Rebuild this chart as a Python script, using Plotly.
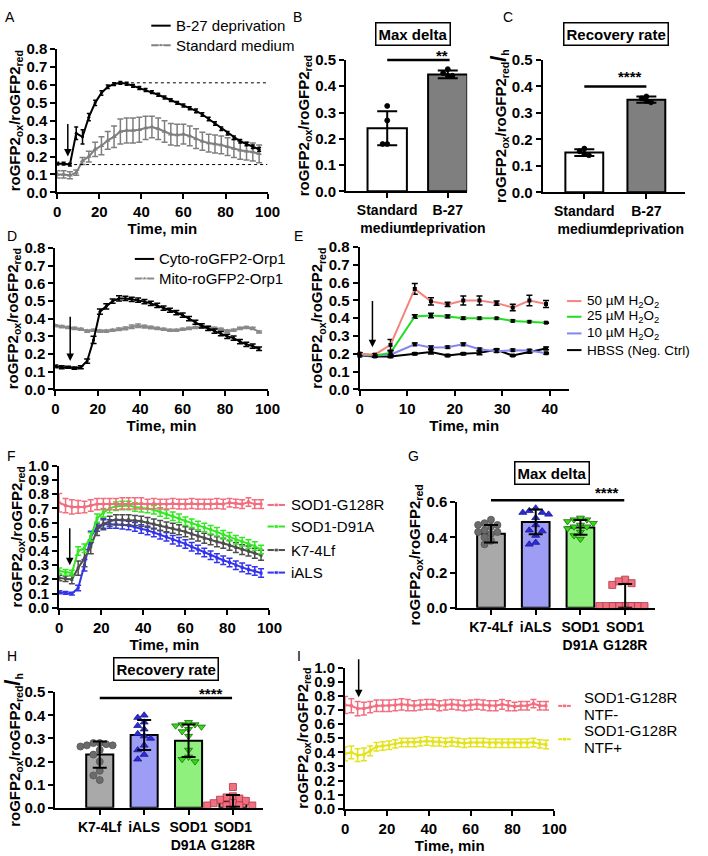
import plotly.graph_objects as go

W, H = 708, 856
FONT = "Arial, 'Liberation Sans', Helvetica, sans-serif"

# ---------------- data ----------------
T = [0, 3, 6, 9, 12, 15, 18, 21, 24, 27, 30,
     33, 36, 39, 42, 45, 48, 51, 54, 57, 60, 63,
     66, 69, 72, 75, 78, 81, 84, 87, 90, 93, 96]

# A
A_b27 = [0.16, 0.16, 0.155, 0.33, 0.31, 0.42, 0.50, 0.555, 0.59, 0.605, 0.612,
         0.607, 0.595, 0.583, 0.572, 0.56, 0.545, 0.53, 0.515, 0.50, 0.485, 0.47,
         0.455, 0.435, 0.41, 0.385, 0.355, 0.33, 0.305, 0.285, 0.27, 0.255, 0.24]
A_b27_err = [0.008, 0.008, 0.008, 0.035, 0.04, 0.02, 0.015, 0.012, 0.01, 0.008, 0.008,
             0.008, 0.008, 0.008, 0.008, 0.008, 0.008, 0.008, 0.008, 0.008, 0.008, 0.008,
             0.01, 0.01, 0.01, 0.01, 0.01, 0.01, 0.01, 0.01, 0.01, 0.01, 0.01]
A_std = [0.10, 0.10, 0.095, 0.11, 0.175, 0.20, 0.24, 0.26, 0.29, 0.31, 0.34,
         0.345, 0.345, 0.35, 0.36, 0.365, 0.355, 0.34, 0.325, 0.32, 0.325, 0.315,
         0.30, 0.285, 0.275, 0.27, 0.265, 0.255, 0.245, 0.235, 0.23, 0.225, 0.215]
A_std_err = [0.02, 0.02, 0.02, 0.015, 0.02, 0.03, 0.04, 0.05, 0.05, 0.06, 0.07,
             0.07, 0.07, 0.07, 0.065, 0.06, 0.06, 0.06, 0.06, 0.06, 0.055, 0.055,
             0.055, 0.05, 0.05, 0.05, 0.05, 0.05, 0.05, 0.05, 0.05, 0.05, 0.05]
A_max, A_base = 0.612, 0.155

# B / C
BC_groups = ["Standard<br>medium", "B-27<br>deprivation"]
B_mean = [0.24, 0.445]
B_sd = [0.065, 0.015]
B_pts = [[0.325, 0.27, 0.18, 0.18], [0.465, 0.45, 0.44, 0.44]]
C_mean = [0.15, 0.35]
C_sd = [0.013, 0.012]
C_pts = [[0.165, 0.155, 0.145, 0.14], [0.362, 0.355, 0.345, 0.34]]

# D
D_cyto = [0.13, 0.125, 0.125, 0.12, 0.125, 0.16, 0.28, 0.44, 0.47, 0.50, 0.515,
          0.515, 0.51, 0.505, 0.497, 0.487, 0.475, 0.46, 0.448, 0.435, 0.42, 0.40,
          0.38, 0.36, 0.345, 0.33, 0.315, 0.30, 0.29, 0.27, 0.255, 0.245, 0.23]
D_cyto_err = [0.008, 0.008, 0.006, 0.006, 0.008, 0.012, 0.02, 0.015, 0.015, 0.012, 0.015,
              0.012, 0.012, 0.012, 0.012, 0.012, 0.012, 0.012, 0.012, 0.012, 0.012, 0.012,
              0.012, 0.012, 0.012, 0.012, 0.012, 0.012, 0.012, 0.012, 0.012, 0.012, 0.01]
D_mito = [0.36, 0.355, 0.35, 0.345, 0.34, 0.33, 0.335, 0.33, 0.33, 0.335, 0.34,
          0.345, 0.355, 0.36, 0.355, 0.35, 0.345, 0.34, 0.335, 0.335, 0.34, 0.345,
          0.35, 0.355, 0.35, 0.345, 0.34, 0.33, 0.335, 0.345, 0.35, 0.345, 0.325]
D_mito_err = [0.006, 0.006, 0.006, 0.006, 0.006, 0.006, 0.006, 0.006, 0.006, 0.006, 0.007,
              0.008, 0.01, 0.01, 0.008, 0.007, 0.006, 0.006, 0.006, 0.006, 0.006, 0.006,
              0.006, 0.006, 0.006, 0.006, 0.006, 0.006, 0.006, 0.006, 0.006, 0.006, 0.006]

# E
E_t = [0, 3.2, 6.5, 11.6, 15, 18.5, 21.8, 25.2, 28.8, 32.2, 35.7, 39.2]
E_50 = [0.20, 0.195, 0.25, 0.565, 0.495, 0.478, 0.50, 0.50, 0.485, 0.46, 0.50, 0.48]
E_50_err = [0.005, 0.005, 0.03, 0.03, 0.02, 0.012, 0.025, 0.025, 0.012, 0.018, 0.03, 0.02]
E_25 = [0.20, 0.19, 0.205, 0.41, 0.415, 0.41, 0.40, 0.40, 0.40, 0.385, 0.38, 0.375]
E_25_err = [0.005, 0.004, 0.01, 0.01, 0.013, 0.008, 0.006, 0.004, 0.003, 0.003, 0.003, 0.003]
E_10 = [0.19, 0.19, 0.195, 0.253, 0.235, 0.237, 0.253, 0.225, 0.214, 0.22, 0.218, 0.203]
E_10_err = [0.004, 0.004, 0.005, 0.007, 0.008, 0.005, 0.007, 0.006, 0.006, 0.006, 0.006, 0.004]
E_hbss = [0.19, 0.185, 0.185, 0.20, 0.21, 0.19, 0.20, 0.205, 0.222, 0.19, 0.21, 0.23]
E_hbss_err = [0.005, 0.005, 0.006, 0.005, 0.012, 0.006, 0.005, 0.01, 0.006, 0.004, 0.006, 0.008]

# F
F_g128r = [0.74, 0.72, 0.71, 0.71, 0.71, 0.72, 0.73, 0.73, 0.73, 0.73, 0.735,
           0.735, 0.735, 0.735, 0.73, 0.735, 0.73, 0.73, 0.735, 0.73, 0.73, 0.735,
           0.73, 0.73, 0.73, 0.735, 0.73, 0.74, 0.735, 0.73, 0.745, 0.73, 0.73]
F_g128r_err = [0.065, 0.05, 0.05, 0.045, 0.04, 0.04, 0.04, 0.04, 0.04, 0.04, 0.04,
               0.04, 0.04, 0.04, 0.035, 0.035, 0.035, 0.035, 0.035, 0.035, 0.035, 0.035,
               0.035, 0.035, 0.035, 0.035, 0.035, 0.03, 0.03, 0.03, 0.03, 0.03, 0.03]
F_d91a = [0.26, 0.25, 0.245, 0.40, 0.42, 0.50, 0.63, 0.67, 0.70, 0.715, 0.72,
          0.72, 0.71, 0.705, 0.70, 0.69, 0.675, 0.66, 0.645, 0.63, 0.61, 0.595,
          0.58, 0.565, 0.55, 0.535, 0.515, 0.50, 0.48, 0.465, 0.45, 0.435, 0.41]
F_d91a_err = [0.02, 0.02, 0.02, 0.03, 0.03, 0.03, 0.03, 0.03, 0.03, 0.03, 0.03,
              0.03, 0.03, 0.03, 0.03, 0.03, 0.03, 0.03, 0.03, 0.03, 0.03, 0.03,
              0.03, 0.03, 0.03, 0.03, 0.03, 0.03, 0.03, 0.03, 0.03, 0.03, 0.03]
F_k7 = [0.21, 0.205, 0.20, 0.28, 0.35, 0.43, 0.55, 0.59, 0.61, 0.62, 0.62,
        0.62, 0.615, 0.61, 0.60, 0.59, 0.58, 0.57, 0.56, 0.55, 0.535, 0.52,
        0.505, 0.49, 0.48, 0.465, 0.455, 0.44, 0.425, 0.41, 0.40, 0.385, 0.37]
F_k7_err = [0.02, 0.02, 0.03, 0.05, 0.06, 0.05, 0.04, 0.04, 0.035, 0.035, 0.035,
            0.035, 0.035, 0.035, 0.035, 0.035, 0.035, 0.035, 0.035, 0.035, 0.035, 0.035,
            0.035, 0.035, 0.035, 0.035, 0.035, 0.035, 0.035, 0.035, 0.035, 0.035, 0.035]
F_ials = [0.11, 0.105, 0.10, 0.14, 0.30, 0.50, 0.57, 0.59, 0.59, 0.59, 0.585,
          0.58, 0.57, 0.555, 0.545, 0.53, 0.515, 0.50, 0.48, 0.465, 0.45, 0.43,
          0.41, 0.39, 0.37, 0.35, 0.335, 0.32, 0.30, 0.285, 0.27, 0.26, 0.245]
F_ials_err = [0.01, 0.01, 0.01, 0.02, 0.04, 0.04, 0.03, 0.03, 0.03, 0.03, 0.03,
              0.03, 0.03, 0.03, 0.03, 0.03, 0.03, 0.03, 0.03, 0.03, 0.03, 0.03,
              0.03, 0.03, 0.03, 0.03, 0.03, 0.03, 0.03, 0.03, 0.03, 0.03, 0.03]

# G / H
GH_groups = ["K7-4Lf", "iALS", "SOD1<br>D91A", "SOD1<br>G128R"]
G_mean = [0.42, 0.487, 0.456, 0.025]
G_sd_up = [0.05, 0.07, 0.042, 0.11]
G_sd_dn = [0.05, 0.07, 0.042, 0.025]
G_pts = [[0.50, 0.48, 0.47, 0.47, 0.46, 0.44, 0.43, 0.43, 0.42, 0.40, 0.38, 0.36],
         [0.565, 0.55, 0.54, 0.54, 0.53, 0.51, 0.47, 0.44, 0.435, 0.41, 0.37, 0.36],
         [0.51, 0.50, 0.50, 0.49, 0.48, 0.47, 0.46, 0.46, 0.45, 0.43, 0.41, 0.39],
         [0.16, 0.15, 0.14, 0.13, 0.01, 0.01, 0.01, 0.01, 0.01, 0.01, 0.01, 0.01]]
H_mean = [0.23, 0.315, 0.29, 0.03]
H_sd_up = [0.057, 0.065, 0.07, 0.025]
H_sd_dn = [0.057, 0.065, 0.07, 0.025]
H_pts = [[0.28, 0.28, 0.275, 0.27, 0.27, 0.265, 0.25, 0.23, 0.20, 0.16, 0.14, 0.12],
         [0.40, 0.39, 0.37, 0.355, 0.34, 0.32, 0.31, 0.30, 0.27, 0.25, 0.23, 0.21],
         [0.37, 0.36, 0.36, 0.355, 0.35, 0.34, 0.33, 0.31, 0.25, 0.22, 0.21, 0.20],
         [0.09, 0.05, 0.045, 0.04, 0.035, 0.03, 0.02, 0.02, 0.01, 0.01, 0.01, 0.01]]

# I
I_ntf_minus = [0.735, 0.73, 0.71, 0.71, 0.72, 0.73, 0.73, 0.73, 0.735, 0.74, 0.735,
               0.73, 0.735, 0.74, 0.74, 0.73, 0.735, 0.74, 0.735, 0.73, 0.735, 0.74,
               0.735, 0.73, 0.73, 0.74, 0.73, 0.725, 0.73, 0.73, 0.745, 0.73, 0.73]
I_ntf_minus_err = [0.06, 0.05, 0.05, 0.045, 0.04, 0.04, 0.04, 0.04, 0.04, 0.04, 0.04,
                   0.035, 0.035, 0.035, 0.035, 0.035, 0.035, 0.035, 0.035, 0.035, 0.035, 0.035,
                   0.035, 0.035, 0.035, 0.035, 0.035, 0.03, 0.03, 0.03, 0.03, 0.03, 0.03]
I_ntf_plus = [0.39, 0.40, 0.38, 0.385, 0.41, 0.44, 0.445, 0.45, 0.46, 0.47, 0.47,
              0.47, 0.475, 0.48, 0.475, 0.475, 0.47, 0.475, 0.47, 0.465, 0.47, 0.47,
              0.47, 0.465, 0.465, 0.465, 0.465, 0.465, 0.465, 0.465, 0.47, 0.46, 0.455]
I_ntf_plus_err = [0.05, 0.045, 0.045, 0.045, 0.035, 0.03, 0.03, 0.03, 0.03, 0.03, 0.03,
                  0.03, 0.03, 0.03, 0.03, 0.03, 0.03, 0.03, 0.03, 0.03, 0.03, 0.03,
                  0.03, 0.03, 0.03, 0.03, 0.03, 0.03, 0.03, 0.03, 0.03, 0.03, 0.03]

# ---------------- layout helpers ----------------
PANELS = {
    'A': dict(n=1, box=(55, 272, 41, 187), xr=[0, 100], yr=[0, 0.8]),
    'B': dict(n=2, box=(353, 478, 52, 186), xr=[-0.68, 1.32], yr=[0, 0.5]),
    'C': dict(n=3, box=(556, 703, 52, 187), xr=[-0.67, 1.625], yr=[0, 0.5]),
    'D': dict(n=4, box=(53, 272, 244, 388), xr=[0, 100], yr=[0, 0.8]),
    'E': dict(n=5, box=(367, 583, 243, 388), xr=[0, 44], yr=[0, 0.8]),
    'F': dict(n=6, box=(57, 274, 466, 611), xr=[0, 100], yr=[0, 1.0]),
    'G': dict(n=7, box=(468, 672, 503, 611), xr=[-0.75, 3.67], yr=[0, 0.6]),
    'H': dict(n=8, box=(53, 267, 697, 815), xr=[-1.0, 3.67], yr=[0, 0.5]),
    'I': dict(n=9, box=(352, 568, 672, 816), xr=[0, 100], yr=[0, 1.0]),
}


def refs(key):
    n = PANELS[key]['n']
    return ('x' if n == 1 else f'x{n}'), ('y' if n == 1 else f'y{n}')


def scale(key):
    p = PANELS[key]
    l, r, t, b = p['box']
    return (r - l) / (p['xr'][1] - p['xr'][0]), (b - t) / (p['yr'][1] - p['yr'][0])


def to_px(key, xv, yv):
    p = PANELS[key]
    l, r, t, b = p['box']
    sx, sy = scale(key)
    return l + (xv - p['xr'][0]) * sx, b - (yv - p['yr'][0]) * sy


def PX(x):
    return x / W


def PY(y):
    return 1 - y / H


YT = "roGFP2<sub>ox</sub>/roGFP2<sub>red</sub>"
YTH = YT + "<span style='font-size:22px'>/</span><sub>h</sub>"

TICK_FONT = dict(family=FONT, size=15, color='black', weight='bold')
TITLE_FONT = dict(family=FONT, size=15, color='black', weight='bold')

AX = dict(showline=True, linecolor='black', linewidth=2, ticks='outside', ticklen=5,
          tickwidth=1.8, tickcolor='black', showgrid=False, zeroline=False, tickfont=TICK_FONT)

fig = go.Figure()
layout = dict(width=W, height=H, margin=dict(l=0, r=0, t=0, b=0),
              paper_bgcolor='white', plot_bgcolor='rgba(0,0,0,0)', showlegend=False,
              font=dict(family=FONT, color='black'))

for key, p in PANELS.items():
    n = p['n']
    l, r, t, b = p['box']
    xs, ys = refs(key)
    layout['xaxis' if n == 1 else f'xaxis{n}'] = dict(AX, domain=[l / W, r / W], range=p['xr'], anchor=ys)
    layout['yaxis' if n == 1 else f'yaxis{n}'] = dict(AX, domain=[1 - b / H, 1 - t / H], range=p['yr'], anchor=xs)

for key in 'ADEFI':
    n = PANELS[key]['n']
    xa = layout['xaxis' if n == 1 else f'xaxis{n}']
    ya = layout['yaxis' if n == 1 else f'yaxis{n}']
    xa.update(tickvals=[0, 10, 20, 30, 40] if key == 'E' else [0, 20, 40, 60, 80, 100],
              title=dict(text='Time, min', font=TITLE_FONT, standoff=3))
    ya.update(dtick=0.1, tick0=0, tickformat='.1f', title=dict(text=YT, font=TITLE_FONT, standoff=2))

for key, groups, ytitle, dt in [('B', BC_groups, YT, 0.1), ('C', BC_groups, YTH, 0.1),
                                ('G', GH_groups, YT, 0.2), ('H', GH_groups, YTH, 0.1)]:
    n = PANELS[key]['n']
    xa = layout[f'xaxis{n}']
    ya = layout[f'yaxis{n}']
    xa.update(tickvals=list(range(len(groups))), ticktext=groups, tickangle=0,
              tickfont=dict(family=FONT, size=14, color='black', weight='bold'))
    ya.update(dtick=dt, tick0=0, tickformat='.1f', title=dict(text=ytitle, font=TITLE_FONT, standoff=2))

# overlay axes spanning the whole figure, pixel units (for legend keys)
layout['xaxis10'] = dict(domain=[0, 1], range=[0, W], visible=False, anchor='y10')
layout['yaxis10'] = dict(domain=[0, 1], range=[H, 0], visible=False, anchor='x10')

shapes = []
annotations = []


def series(key, t, y, e, color, sym='circle', ms=3, mcolor=None, ecolor=None, ew=3, lw=2):
    xs, ys = refs(key)
    fig.add_trace(go.Scatter(
        x=t, y=y, xaxis=xs, yaxis=ys, mode='lines+markers',
        line=dict(color=color, width=lw),
        marker=dict(symbol=sym, size=ms, color=mcolor or color),
        error_y=dict(type='data', array=e, color=ecolor or color, thickness=1.5, width=ew),
        cliponaxis=False))


def swarm(key, vals, size):
    sx, sy = scale(key)
    placed, offs = [], []
    for v in vals:
        for c in [0, -1, 1, -2, 2, -3, 3, -4, 4, -5, 5]:
            dx = c * size * 0.95 / sx
            if all(abs(dx - px) * sx >= size * 0.9 or abs(v - pv) * sy >= size * 0.9 for px, pv in placed):
                break
        placed.append((dx, v))
        offs.append(dx)
    return offs


def bars(key, means, up, dn, fills, width, pts, syms, dfill, dline, dsize, cap):
    xs, ys = refs(key)
    idx = list(range(len(means)))
    fig.add_trace(go.Bar(x=idx, y=means, xaxis=xs, yaxis=ys, width=width,
                         marker=dict(color=fills, line=dict(color='black', width=2))))
    for i, vals in enumerate(pts):
        offs = swarm(key, vals, dsize)
        fig.add_trace(go.Scatter(x=[i + o for o in offs], y=vals, xaxis=xs, yaxis=ys, mode='markers',
                                 marker=dict(symbol=syms[i], size=dsize, color=dfill[i],
                                             line=dict(color=dline[i], width=0.8)),
                                 cliponaxis=False))
    fig.add_trace(go.Scatter(x=idx, y=means, xaxis=xs, yaxis=ys, mode='markers',
                             marker=dict(size=1, color='rgba(0,0,0,0)'),
                             error_y=dict(type='data', symmetric=False, array=up, arrayminus=dn,
                                          color='black', thickness=2, width=cap)))


def arrow(key, x, y_tip, y_tail):
    xs, ys = refs(key)
    annotations.append(dict(x=x, y=y_tip, ax=x, ay=y_tail, xref=xs, yref=ys, axref=xs, ayref=ys,
                            text='', showarrow=True, arrowhead=2, arrowsize=1, arrowwidth=1.5,
                            arrowcolor='black'))


def sig(key, x0, x1, y, stars, sx, lift):
    a = to_px(key, x0, y)
    b = to_px(key, x1, y)
    shapes.append(dict(type='line', xref='paper', yref='paper', x0=PX(a[0]), x1=PX(b[0]),
                       y0=PY(a[1]), y1=PY(a[1]), line=dict(color='black', width=2.5)))
    c = to_px(key, sx, y)
    annotations.append(dict(x=PX(c[0]), y=PY(c[1] - lift), xref='paper', yref='paper', text=f'<b>{stars}</b>',
                            showarrow=False, xanchor='center', yanchor='middle',
                            font=dict(size=15, family=FONT)))


def box_title(cx, cy, text):
    annotations.append(dict(x=PX(cx), y=PY(cy), xref='paper', yref='paper', text=f'<b>{text}</b>',
                            showarrow=False, xanchor='center', yanchor='middle',
                            bordercolor='black', borderwidth=1.5, borderpad=2,
                            bgcolor='white', font=dict(size=15, family=FONT)))


def legend_key(x0, x1, y, color, lines, tx, sym=None, ms=0, lw=2, fs=15, gap=17):
    fig.add_trace(go.Scatter(x=[x0, (x0 + x1) / 2, x1], y=[y, y, y], xaxis='x10', yaxis='y10',
                             mode='lines+markers', line=dict(color=color, width=lw),
                             marker=dict(symbol=sym or 'circle', size=[0, ms, 0], color=color)))
    if isinstance(lines, str):
        lines = [lines]
    top = y - gap * (len(lines) - 1) / 2
    for k, text in enumerate(lines):
        annotations.append(dict(x=PX(tx), y=PY(top + k * gap), xref='paper', yref='paper', text=text,
                                showarrow=False, xanchor='left', yanchor='middle', align='left',
                                font=dict(size=fs, family=FONT)))


# ---------------- A ----------------
series('A', T, A_std, A_std_err, '#7f7f7f', sym='triangle-up', ms=5)
series('A', T, A_b27, A_b27_err, 'black', ms=3, ew=2)
xs, ys = refs('A')
shapes.append(dict(type='line', xref=xs, yref=ys, x0=35, x1=100, y0=A_max, y1=A_max,
                   line=dict(color='black', width=1, dash='dot')))
shapes.append(dict(type='line', xref=xs, yref=ys, x0=8, x1=100, y0=A_base, y1=A_base,
                   line=dict(color='black', width=1, dash='dot')))
arrow('A', 101.5, A_max, A_base)
annotations.append(dict(x=105.8, y=(A_max + A_base) / 2, xref=xs, yref=ys, text='Max delta', textangle=-90,
                        showarrow=False, xanchor='center', yanchor='middle', font=dict(size=15, family=FONT)))
arrow('A', 5, 0.2, 0.39)
legend_key(152, 172, 17, 'black', 'B-27 deprivation', 175)
legend_key(152, 172, 37, '#7f7f7f', 'Standard medium', 175, sym='triangle-up', ms=5)

# ---------------- B ----------------
bars('B', B_mean, B_sd, B_sd, ['white', '#7f7f7f'], 0.65, B_pts, ['circle', 'circle'],
     ['black', 'black'], ['black', 'black'], 5, 10)
sig('B', 0, 1.03, 0.5, '**', 0.9, 5)
box_title(422, 25, 'Max delta')

# ---------------- C ----------------
bars('C', C_mean, C_sd, C_sd, ['white', '#7f7f7f'], 0.61, C_pts, ['circle', 'circle'],
     ['black', 'black'], ['black', 'black'], 5, 10)
sig('C', 0, 1, 0.4, '****', 0.73, 10)
box_title(632, 25, 'Recovery rate')

# ---------------- D ----------------
series('D', T, D_mito, D_mito_err, '#8a8a8a', sym='triangle-up', ms=5)
series('D', T, D_cyto, D_cyto_err, 'black', ms=3)
arrow('D', 7, 0.16, 0.42)
legend_key(135, 155, 255, 'black', 'Cyto-roGFP2-Orp1', 158)
legend_key(135, 155, 275, '#8a8a8a', 'Mito-roGFP2-Orp1', 158, sym='triangle-up', ms=5)

# ---------------- E ----------------
E_cols = ['#f4847e', '#22dd22', '#8585f2', 'black']
series('E', E_t, E_hbss, E_hbss_err, E_cols[3], sym='square', ms=4, mcolor='black', ecolor='black')
series('E', E_t, E_10, E_10_err, E_cols[2], sym='square', ms=4, mcolor='black', ecolor='black')
series('E', E_t, E_25, E_25_err, E_cols[1], sym='square', ms=4, mcolor='black', ecolor='black')
series('E', E_t, E_50, E_50_err, E_cols[0], sym='square', ms=4, mcolor='black', ecolor='black')
arrow('E', 2.7, 0.237, 0.505)
for i, (lab, yy) in enumerate(zip(['50 µM H<sub>2</sub>O<sub>2</sub>', '25 µM H<sub>2</sub>O<sub>2</sub>',
                                  '10 µM H<sub>2</sub>O<sub>2</sub>', 'HBSS (Neg. Ctrl)'],
                                 [298, 314, 331, 348])):
    legend_key(581, 596, yy, E_cols[i], lab, 600, fs=13.5)

# ---------------- F ----------------
F_cols = ['#f26d7d', '#33e822', '#4d4d4d', '#3434ee']
series('F', T, F_ials, F_ials_err, F_cols[3], sym='square', ms=3)
series('F', T, F_k7, F_k7_err, F_cols[2], sym='square', ms=3)
series('F', T, F_d91a, F_d91a_err, F_cols[1], sym='square', ms=3)
series('F', T, F_g128r, F_g128r_err, F_cols[0], sym='square', ms=3)
arrow('F', 5, 0.30, 0.57)
for i, (lab, yy) in enumerate(zip(['SOD1-G128R', 'SOD1-D91A', 'K7-4Lf', 'iALS'], [506, 528, 552, 575])):
    legend_key(272, 290, yy, F_cols[i], lab, 294, sym='square', ms=4)

# ---------------- G ----------------
bars('G', G_mean, G_sd_up, G_sd_dn, ['#a9a9a9', '#9d9df5', '#90f07e', '#f2808e'], 0.62, G_pts,
     ['circle', 'triangle-up', 'triangle-down', 'square'],
     ['#6b6b6b', '#2b2bd9', '#33dd11', '#f07080'], ['#555555', '#1a1a90', '#1a6a10', '#b03545'], 7, 7)
sig('G', 0, 2.98, 0.61, '****', 2.6, 8)
box_title(566, 473, 'Max delta')

# ---------------- H ----------------
bars('H', H_mean, H_sd_up, H_sd_dn, ['#a9a9a9', '#9d9df5', '#90f07e', '#f2808e'], 0.61, H_pts,
     ['circle', 'triangle-up', 'triangle-down', 'square'],
     ['#6b6b6b', '#2b2bd9', '#33dd11', '#f07080'], ['#555555', '#1a1a90', '#1a6a10', '#b03545'], 7, 7)
sig('H', 0, 2.98, 0.475, '****', 2.5, 5)
box_title(167, 673, 'Recovery rate')

# ---------------- I ----------------
I_cols = ['#f26d7d', '#e3e31a']
series('I', T, I_ntf_plus, I_ntf_plus_err, I_cols[1], sym='square', ms=3)
series('I', T, I_ntf_minus, I_ntf_minus_err, I_cols[0], sym='square', ms=3)
arrow('I', 6.5, 0.79, 1.07)
legend_key(572, 585, 711, I_cols[0], ['SOD1-G128R', 'NTF-'], 597, sym='square', ms=4)
legend_key(572, 585, 745, I_cols[1], ['SOD1-G128R', 'NTF+'], 597, sym='square', ms=4)

# panel letters
for lab, x, y in [('A', 6, 8), ('B', 303, 8), ('C', 520, 8), ('D', 8, 232), ('E', 304, 232),
                  ('F', 8, 456), ('G', 423, 456), ('H', 8, 660), ('I', 304, 660)]:
    annotations.append(dict(x=PX(x), y=PY(y), xref='paper', yref='paper', text=lab, showarrow=False,
                            xanchor='center', yanchor='middle', font=dict(size=14, family=FONT)))

layout['shapes'] = shapes
layout['annotations'] = annotations
fig.update_layout(**layout)
fig.update_traces(showlegend=False)

# drop the default body margin so the 708x856 figure fills the window exactly
fig.write_html("out.html", config={'displayModeBar': False},
               post_script="document.body.style.margin='0px';document.body.style.overflow='hidden';")
